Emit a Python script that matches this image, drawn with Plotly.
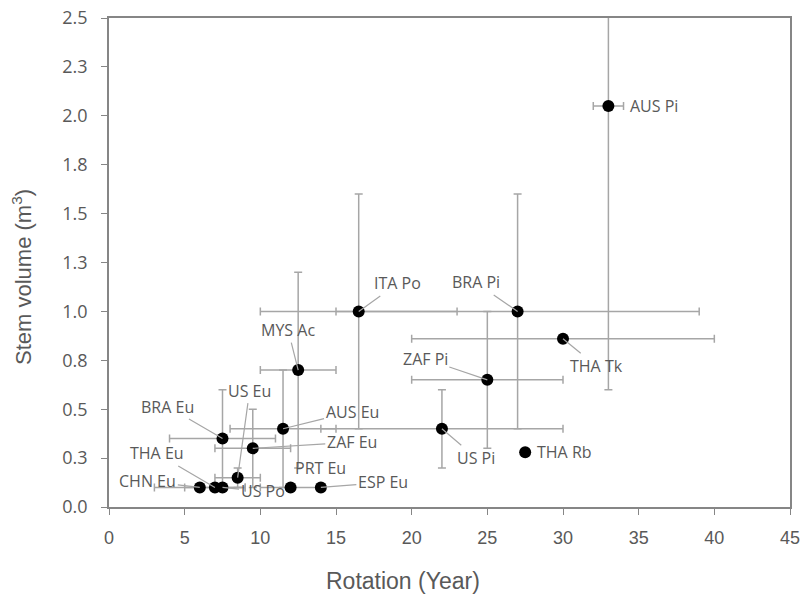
import plotly.graph_objects as go

# ---- data ----
labels = ["AUS Pi", "ITA Po", "BRA Pi", "MYS Ac", "ZAF Pi", "THA Tk", "US Pi", "THA Rb",
          "AUS Eu", "ZAF Eu", "BRA Eu", "US Eu", "PRT Eu", "ESP Eu", "US Po", "THA Eu", "CHN Eu"]
rotation = [33, 16.5, 27, 12.5, 25, 30, 22, 27.5, 11.5, 9.5, 7.5, 8.5, 12, 14, 7.5, 7, 6]
volume = [2.05, 1.0, 1.0, 0.7, 0.65, 0.86, 0.4, 0.28, 0.4, 0.3, 0.35, 0.15, 0.1, 0.1, 0.1, 0.1, 0.1]
rotation_err = [1, 6.5, 12, 2.5, 5, 10, 8, 0, 3.5, 2.5, 3.5, 1.5, 2, 0, 0, 2, 3]
volume_err = [1.45, 0.6, 0.6, 0.5, 0.35, 0, 0.2, 0, 0.3, 0.2, 0.25, 0.05, 0, 0, 0, 0, 0]

y_tickvals = [0, 0.25, 0.5, 0.75, 1.0, 1.25, 1.5, 1.75, 2.0, 2.25, 2.5]
y_ticktext = ["0.0", "0.3", "0.5", "0.8", "1.0", "1.3", "1.5", "1.8", "2.0", "2.3", "2.5"]

# ---- label placement: pixel offset of text centre from its point (right, up); style only ----
label_offsets = {
    "AUS Pi": (46, 0, False), "ITA Po": (39, 28, True), "BRA Pi": (-42, 29, True),
    "MYS Ac": (-10, 40, True), "ZAF Pi": (-62, 21, True), "THA Tk": (33, -27, True),
    "US Pi": (34, -29, True), "THA Rb": (39, 0, False), "AUS Eu": (69, 17, True),
    "ZAF Eu": (99, 6, True), "BRA Eu": (-55, 32, True), "US Eu": (12, 87, True),
    "PRT Eu": (30, 19, False), "ESP Eu": (62, 5, True), "US Po": (40, -4, True),
    "THA Eu": (-58, 34, True), "CHN Eu": (-52, 6, True),
}

GRAY = "#a6a6a6"
AX = "#868686"
TXT = "#595959"
FONT = "Open Sans, Lato, sans-serif"

fig = go.Figure()
fig.add_trace(go.Scatter(
    x=rotation, y=volume, mode="markers",
    marker=dict(color="black", size=12),
    error_x=dict(type="data", array=rotation_err, symmetric=True, color=GRAY, thickness=1.5, width=4),
    error_y=dict(type="data", array=volume_err, symmetric=True, color=GRAY, thickness=1.5, width=4),
    showlegend=False, hoverinfo="skip",
))

for lab, xv, yv in zip(labels, rotation, volume):
    dx, dy, arrow = label_offsets[lab]
    if arrow:
        fig.add_annotation(x=xv, y=yv, text=lab, showarrow=True, arrowhead=0, arrowwidth=1.2,
                           arrowcolor=GRAY, ax=dx, ay=-dy, standoff=0,
                           font=dict(family=FONT, size=16, color=TXT))
    else:
        fig.add_annotation(x=xv, y=yv, text=lab, showarrow=False, xshift=dx, yshift=dy,
                           font=dict(family=FONT, size=16, color=TXT))

fig.add_annotation(text="Rotation (Year)", xref="paper", yref="paper", x=0.432, y=-0.151,
                   xanchor="center", yanchor="middle", showarrow=False,
                   font=dict(family="Liberation Sans, Arial, sans-serif", size=23, color=TXT))
fig.add_annotation(text="Stem volume (m<sup>3</sup>)", xref="paper", yref="paper", x=-0.128, y=0.47,
                   xanchor="center", yanchor="middle", textangle=-90, showarrow=False,
                   font=dict(family="Liberation Sans, Arial, sans-serif", size=22, color=TXT))

fig.update_xaxes(range=[0, 45], dtick=5, tick0=0, ticks="outside", ticklen=6, tickcolor=AX,
                 showline=True, linecolor=AX, linewidth=1.5, mirror=True, showgrid=False, zeroline=False,
                 ticklabelstandoff=8, automargin=False,
                 tickfont=dict(family="Liberation Sans, Arial, sans-serif", size=18, color=TXT))
fig.update_yaxes(range=[0, 2.5], tickvals=y_tickvals, ticktext=y_ticktext, ticks="outside", ticklen=6,
                 tickcolor=AX, showline=True, linecolor=AX, linewidth=1.5, mirror=True,
                 showgrid=False, zeroline=False, ticklabelstandoff=10, automargin=False,
                 tickfont=dict(family=FONT, size=18, color=TXT))
fig.update_layout(width=802, height=596, margin=dict(l=109, r=12, t=18, b=89, autoexpand=False),
                  plot_bgcolor="white", paper_bgcolor="white")
fig.write_html("out.html")
